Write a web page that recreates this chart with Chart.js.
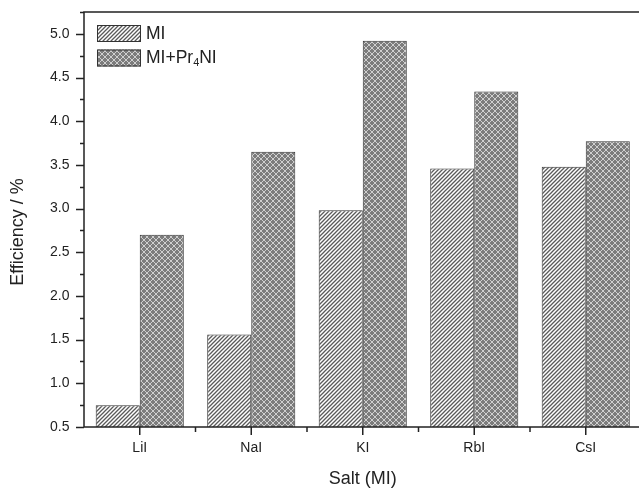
<!DOCTYPE html>
<html>
<head>
<meta charset="utf-8">
<script src="https://cdn.jsdelivr.net/npm/chart.js@4.4.1/dist/chart.umd.min.js"></script>
<style>
  html, body { margin: 0; padding: 0; background: #fff; overflow: hidden; }
  #wrap { width: 643px; height: 488px; }
</style>
</head>
<body>
<div id="wrap"><canvas id="effChart"></canvas></div>
<script>
// Data
const salts = ['LiI', 'NaI', 'KI', 'RbI', 'CsI'];
const miValues = [0.75, 1.56, 2.98, 3.46, 3.48];
const miPr4Values = [2.70, 3.65, 4.92, 4.34, 3.77];
const seriesLabels = ['MI', 'MI+Pr\u2084NI'];
const yMin = 0.5;
const yMax = 5.25;
const yStep = 0.5;

const FONT = "'Liberation Sans', Arial, sans-serif";
const INK = '#222';

// hatch fills
function stripePattern() {
    const c = document.createElement('canvas');
    c.width = 4; c.height = 4;
    const g = c.getContext('2d');
    g.fillStyle = '#fff';
    g.fillRect(0, 0, 4, 4);
    g.strokeStyle = '#5a5a5a';
    g.lineWidth = 1.3;
    g.beginPath();
    g.moveTo(-1, 5); g.lineTo(5, -1);
    g.moveTo(-1, 1); g.lineTo(1, -1);
    g.moveTo(3, 5); g.lineTo(5, 3);
    g.stroke();
    return g.createPattern(c, 'repeat');
}

function crossPattern() {
    const c = document.createElement('canvas');
    c.width = 6; c.height = 6;
    const g = c.getContext('2d');
    g.fillStyle = '#7c7c7c';
    g.fillRect(0, 0, 6, 6);
    g.strokeStyle = '#d8d8d8';
    g.lineWidth = 0.9;
    g.beginPath();
    g.moveTo(-1, 7); g.lineTo(7, -1);
    g.moveTo(-1, -1); g.lineTo(7, 7);
    g.stroke();
    return g.createPattern(c, 'repeat');
}

// text with unicode subscript digits drawn as small lowered digits
function drawRichText(ctx, text, x, y, size) {
    let cx = x;
    for (const ch of text) {
        const code = ch.codePointAt(0);
        if (code >= 0x2080 && code <= 0x2089) {
            const d = String(code - 0x2080);
            ctx.font = (size * 0.62) + 'px ' + FONT;
            ctx.fillText(d, cx, y + size * 0.28);
            cx += ctx.measureText(d).width;
        } else {
            ctx.font = size + 'px ' + FONT;
            ctx.fillText(ch, cx, y);
            cx += ctx.measureText(ch).width;
        }
    }
}

const framePlugin = {
    id: 'frame',
    afterDraw(chart) {
        const ctx = chart.ctx;
        const a = chart.chartArea;
        const xs = chart.scales.x;
        const ys = chart.scales.y;
        ctx.save();
        ctx.strokeStyle = INK;
        ctx.lineWidth = 1.5;
        ctx.strokeRect(a.left, a.top, a.right - a.left, a.bottom - a.top);

        // y ticks (major every 0.5, minor between)
        ctx.beginPath();
        for (let v = yMin; v <= yMax + 1e-9; v += yStep / 2) {
            const py = Math.round(ys.getPixelForValue(v)) + 0.5;
            const major = Math.abs((v - yMin) / yStep - Math.round((v - yMin) / yStep)) < 1e-6;
            ctx.moveTo(a.left, py);
            ctx.lineTo(a.left - (major ? 8 : 4), py);
        }
        // x ticks: major at category centres, minor at boundaries
        salts.forEach((s, i) => {
            const px = xs.getPixelForValue(i);
            ctx.moveTo(px, a.bottom);
            ctx.lineTo(px, a.bottom + 8);
            const bx = px + (xs.getPixelForValue(1) - xs.getPixelForValue(0)) / 2;
            if (i < salts.length - 1) {
                ctx.moveTo(bx, a.bottom);
                ctx.lineTo(bx, a.bottom + 5);
            }
        });
        ctx.stroke();

        // axis titles
        ctx.fillStyle = INK;
        ctx.font = '18px ' + FONT;
        ctx.textAlign = 'center';
        ctx.textBaseline = 'middle';
        ctx.fillText('Salt (MI)', (a.left + a.right) / 2, 479);
        ctx.translate(18, 232);
        ctx.rotate(-Math.PI / 2);
        ctx.fillText('Efficiency / %', 0, 0);
        ctx.restore();

        // legend
        ctx.save();
        chart.data.datasets.forEach((ds, i) => {
            const top = 25 + i * 24.5;
            ctx.fillStyle = ds.backgroundColor;
            ctx.fillRect(97, top, 44, 17);
            ctx.strokeStyle = '#333';
            ctx.lineWidth = 1;
            ctx.strokeRect(97.5, top + 0.5, 43, 16);
            ctx.fillStyle = INK;
            ctx.textAlign = 'left';
            ctx.textBaseline = 'middle';
            drawRichText(ctx, ds.label, 146, top + 9, 17.5);
        });
        ctx.restore();
    }
};

const effCtx = document.getElementById('effChart').getContext('2d');
new Chart(effCtx, {
    type: 'bar',
    data: {
        labels: salts,
        datasets: [{
            label: seriesLabels[0],
            data: miValues,
            backgroundColor: stripePattern(),
            borderColor: '#333',
            borderWidth: 1,
            base: yMin
        }, {
            label: seriesLabels[1],
            data: miPr4Values,
            backgroundColor: crossPattern(),
            borderColor: '#333',
            borderWidth: 1,
            base: yMin
        }]
    },
    options: {
        responsive: true,
        maintainAspectRatio: false,
        animation: false,
        layout: { padding: { top: 12, right: 1.5, left: 0, bottom: 0 } },
        datasets: {
            bar: { categoryPercentage: 0.79, barPercentage: 1.0 }
        },
        plugins: {
            legend: { display: false },
            tooltip: { enabled: false }
        },
        scales: {
            x: {
                grid: { display: false, drawTicks: false },
                border: { display: false },
                ticks: { color: INK, font: { family: FONT, size: 14 }, padding: 13 },
                afterFit: s => { s.height = 61; s.paddingLeft = 0; s.paddingRight = 0; }
            },
            y: {
                min: yMin,
                max: yMax,
                grid: { display: false, drawTicks: false },
                border: { display: false },
                ticks: {
                    stepSize: yStep,
                    includeBounds: false,
                    color: INK,
                    font: { family: FONT, size: 14 },
                    padding: 14.5,
                    callback: v => Number(v).toFixed(1)
                },
                afterFit: s => { s.width = 84; s.paddingTop = 0; s.paddingBottom = 0; }
            }
        }
    },
    plugins: [framePlugin]
});
</script>
</body>
</html>
